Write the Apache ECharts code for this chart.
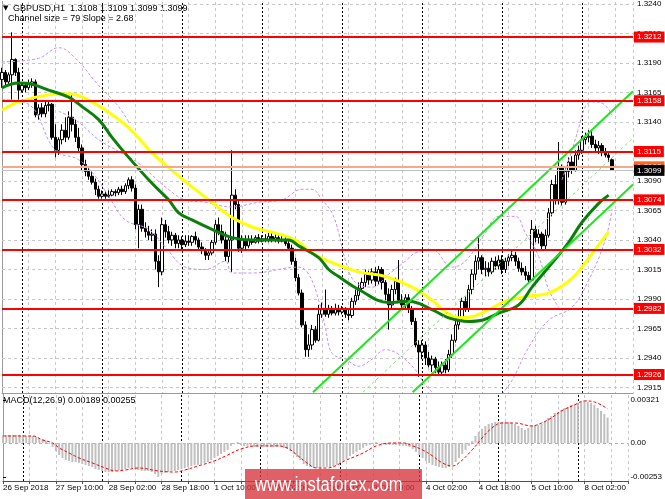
<!DOCTYPE html>
<html><head><meta charset="utf-8">
<script src="https://cdn.jsdelivr.net/npm/echarts@6/dist/echarts.min.js"></script>
<style>html,body{margin:0;padding:0;background:#fff}#c{width:665px;height:499px}</style>
</head><body><div id="c"></div>
<script>
// ---------- data ----------
const tickLabels = ['26 Sep 2018','27 Sep 10:00','28 Sep 02:00','28 Sep 18:00','1 Oct 10:00','2 Oct 02:00','2 Oct 18:00','3 Oct 10:00','4 Oct 02:00','4 Oct 18:00','5 Oct 10:00','8 Oct 02:00'];
const priceTicks = [1.2915,1.2940,1.2965,1.2990,1.3015,1.3040,1.3065,1.3090,1.3115,1.3140,1.3165,1.3190,1.3215,1.3240];
const macdTicks = [-0.00253,0,0.00321];
const levels = [1.3212,1.3158,1.3115,1.3074,1.3032,1.2982,1.2926];
const askPrice = 1.3102;
const bidPrice = 1.3099;
const daySeparators = [6,30,54,78,102,126,150,174];
// [open, close, low, high] per H1 bar
const candles = [
[1.3176,1.3182,1.3169,1.3186],[1.3182,1.3174,1.3171,1.3184],[1.3174,1.3180,1.3171,1.3182],[1.3180,1.3193,1.3159,1.3216],
[1.3193,1.3182,1.3179,1.3194],[1.3182,1.3167,1.3159,1.3186],[1.3167,1.3171,1.3165,1.3174],[1.3171,1.3169,1.3165,1.3173],
[1.3169,1.3172,1.3167,1.3176],[1.3172,1.3174,1.3169,1.3177],[1.3174,1.3146,1.3144,1.3176],[1.3146,1.3152,1.3142,1.3155],
[1.3152,1.3147,1.3144,1.3156],[1.3147,1.3154,1.3144,1.3157],[1.3154,1.3155,1.3149,1.3157],[1.3155,1.3127,1.3125,1.3156],
[1.3127,1.3116,1.3110,1.3138],[1.3116,1.3125,1.3112,1.3127],[1.3125,1.3133,1.3121,1.3138],[1.3133,1.3127,1.3123,1.3144],
[1.3127,1.3144,1.3125,1.3149],[1.3144,1.3138,1.3132,1.3163],[1.3138,1.3127,1.3123,1.3142],[1.3127,1.3118,1.3115,1.3135],
[1.3118,1.3104,1.3099,1.3121],[1.3104,1.3098,1.3094,1.3108],[1.3098,1.3094,1.3091,1.3101],[1.3094,1.3089,1.3087,1.3098],
[1.3089,1.3083,1.3078,1.3092],[1.3083,1.3077,1.3075,1.3086],[1.3077,1.3079,1.3075,1.3082],[1.3079,1.3077,1.3075,1.3081],
[1.3077,1.3078,1.3076,1.3082],[1.3078,1.3081,1.3077,1.3083],[1.3081,1.3080,1.3077,1.3083],[1.3080,1.3083,1.3078,1.3085],
[1.3083,1.3081,1.3078,1.3086],[1.3081,1.3086,1.3079,1.3088],[1.3086,1.3091,1.3083,1.3093],[1.3091,1.3084,1.3081,1.3094],
[1.3084,1.3053,1.3049,1.3087],[1.3053,1.3066,1.3033,1.3070],[1.3066,1.3050,1.3047,1.3070],[1.3050,1.3047,1.3042,1.3055],
[1.3047,1.3044,1.3040,1.3052],[1.3044,1.3045,1.3039,1.3049],[1.3045,1.3022,1.3015,1.3049],[1.3022,1.3013,1.3000,1.3027],
[1.3013,1.3053,1.3010,1.3059],[1.3053,1.3047,1.3042,1.3057],[1.3047,1.3040,1.3037,1.3052],[1.3040,1.3044,1.3035,1.3047],
[1.3044,1.3037,1.3033,1.3046],[1.3037,1.3040,1.3033,1.3044],[1.3040,1.3036,1.3032,1.3043],[1.3036,1.3039,1.3034,1.3044],
[1.3039,1.3038,1.3035,1.3044],[1.3038,1.3043,1.3035,1.3044],[1.3043,1.3040,1.3036,1.3047],[1.3040,1.3034,1.3032,1.3042],
[1.3034,1.3031,1.3028,1.3038],[1.3031,1.3027,1.3023,1.3033],[1.3027,1.3029,1.3023,1.3032],[1.3029,1.3038,1.3027,1.3040],
[1.3038,1.3053,1.3036,1.3057],[1.3053,1.3047,1.3044,1.3059],[1.3047,1.3040,1.3037,1.3053],[1.3040,1.3026,1.3022,1.3047],
[1.3026,1.3040,1.3021,1.3042],[1.3040,1.3078,1.3013,1.3116],[1.3078,1.3070,1.3066,1.3083],[1.3070,1.3033,1.3030,1.3074],
[1.3033,1.3040,1.3029,1.3044],[1.3040,1.3035,1.3032,1.3044],[1.3035,1.3040,1.3033,1.3044],[1.3040,1.3038,1.3036,1.3044],
[1.3038,1.3042,1.3037,1.3044],[1.3042,1.3039,1.3037,1.3045],[1.3039,1.3041,1.3038,1.3044],[1.3041,1.3040,1.3038,1.3045],
[1.3040,1.3043,1.3038,1.3046],[1.3043,1.3040,1.3038,1.3047],[1.3040,1.3042,1.3038,1.3045],[1.3042,1.3039,1.3037,1.3044],
[1.3039,1.3040,1.3038,1.3044],[1.3040,1.3037,1.3035,1.3043],[1.3037,1.3033,1.3032,1.3039],[1.3033,1.3022,1.3019,1.3036],
[1.3022,1.3008,1.3005,1.3025],[1.3008,1.2995,1.2993,1.3011],[1.2995,1.2968,1.2966,1.2998],[1.2968,1.2947,1.2941,1.2971],
[1.2947,1.2951,1.2941,1.2960],[1.2951,1.2964,1.2947,1.2968],[1.2964,1.2955,1.2953,1.2967],[1.2955,1.2977,1.2954,1.2985],
[1.2977,1.2981,1.2974,1.2987],[1.2981,1.2977,1.2975,1.2998],[1.2977,1.2982,1.2974,1.2985],[1.2982,1.2978,1.2976,1.2984],
[1.2978,1.2982,1.2976,1.2986],[1.2982,1.2979,1.2976,1.2985],[1.2979,1.2981,1.2977,1.2984],[1.2981,1.2977,1.2974,1.2983],
[1.2977,1.2976,1.2972,1.2982],[1.2976,1.2988,1.2974,1.2991],[1.2988,1.2993,1.2985,1.2998],[1.2993,1.2999,1.2989,1.3004],
[1.2999,1.3004,1.2996,1.3008],[1.3004,1.3011,1.3000,1.3015],[1.3011,1.3006,1.3002,1.3014],[1.3006,1.3013,1.3003,1.3016],
[1.3013,1.3005,1.3001,1.3017],[1.3005,1.3015,1.3002,1.3018],[1.3015,1.3004,1.2998,1.3017],[1.3004,1.2994,1.2989,1.3006],
[1.2994,1.2985,1.2964,1.2999],[1.2985,1.2998,1.2982,1.3002],[1.2998,1.3005,1.2994,1.3008],[1.3005,1.2989,1.2987,1.3023],
[1.2989,1.2985,1.2981,1.2994],[1.2985,1.2991,1.2981,1.2994],[1.2991,1.2981,1.2978,1.2994],[1.2981,1.2971,1.2968,1.2984],
[1.2971,1.2951,1.2949,1.2974],[1.2951,1.2945,1.2924,1.2955],[1.2945,1.2951,1.2939,1.2955],[1.2951,1.2940,1.2934,1.2954],
[1.2940,1.2934,1.2932,1.2945],[1.2934,1.2939,1.2928,1.2942],[1.2939,1.2932,1.2927,1.2941],[1.2932,1.2928,1.2925,1.2937],
[1.2928,1.2934,1.2926,1.2937],[1.2934,1.2930,1.2927,1.2939],[1.2930,1.2943,1.2928,1.2947],[1.2943,1.2955,1.2940,1.2960],
[1.2955,1.2968,1.2953,1.2972],[1.2968,1.2974,1.2964,1.2981],[1.2974,1.2988,1.2971,1.2991],[1.2988,1.2981,1.2979,1.2992],
[1.2981,1.2998,1.2979,1.3002],[1.2998,1.3011,1.2994,1.3015],[1.3011,1.3022,1.3006,1.3027],[1.3022,1.3025,1.3015,1.3042],
[1.3025,1.3015,1.3011,1.3027],[1.3015,1.3016,1.3009,1.3022],[1.3016,1.3013,1.3009,1.3021],[1.3013,1.3022,1.3011,1.3025],
[1.3022,1.3018,1.3015,1.3026],[1.3018,1.3023,1.3015,1.3027],[1.3023,1.3015,1.3011,1.3027],[1.3015,1.3022,1.3012,1.3025],
[1.3022,1.3025,1.3018,1.3028],[1.3025,1.3027,1.3022,1.3032],[1.3027,1.3022,1.3018,1.3030],[1.3022,1.3016,1.3013,1.3025],
[1.3016,1.3013,1.3010,1.3021],[1.3013,1.3010,1.3006,1.3018],[1.3010,1.3006,1.3004,1.3013],[1.3006,1.3049,1.3005,1.3057],
[1.3049,1.3042,1.3038,1.3052],[1.3042,1.3045,1.3037,1.3049],[1.3045,1.3035,1.3032,1.3047],[1.3035,1.3044,1.3032,1.3049],
[1.3044,1.3063,1.3042,1.3067],[1.3063,1.3087,1.3060,1.3091],[1.3087,1.3074,1.3070,1.3095],[1.3074,1.3101,1.3070,1.3123],
[1.3101,1.3072,1.3069,1.3104],[1.3072,1.3098,1.3070,1.3101],[1.3098,1.3106,1.3093,1.3110],[1.3106,1.3099,1.3096,1.3111],
[1.3099,1.3112,1.3098,1.3116],[1.3112,1.3116,1.3108,1.3120],[1.3116,1.3125,1.3113,1.3128],[1.3125,1.3127,1.3121,1.3131],
[1.3127,1.3128,1.3123,1.3133],[1.3128,1.3121,1.3118,1.3133],[1.3121,1.3118,1.3115,1.3125],[1.3118,1.3120,1.3113,1.3124],
[1.3120,1.3115,1.3111,1.3122],[1.3115,1.3112,1.3110,1.3118],[1.3112,1.3110,1.3106,1.3115],[1.3108,1.3099,1.3099,1.3109]
];
// moving averages [bar, price]
const maGreen = [[0,1.3169],[5,1.3173],[9,1.3172],[14,1.3167],[20,1.3161],[24,1.3153],[29,1.3142],[33,1.3127],[38,1.3110],[45,1.3088],[50,1.3074],[53,1.3063],[57,1.3057],[63,1.3049],[69,1.3042],[75,1.3040],[86,1.3040],[89,1.3035],[95,1.3025],[98,1.3015],[101,1.3009],[107,1.2998],[116,1.2987],[122,1.2988],[129,1.2981],[134,1.2974],[140,1.2971],[144,1.2972],[149,1.2978],[155,1.2985],[159,1.3000],[164,1.3017],[170,1.3038],[174,1.3055],[179,1.3071],[182,1.3078]];
const maYellow = [[0,1.3150],[5,1.3157],[14,1.3163],[20,1.3164],[25,1.3160],[31,1.3150],[38,1.3135],[45,1.3114],[51,1.3099],[57,1.3085],[63,1.3072],[69,1.3059],[75,1.3051],[83,1.3045],[88,1.3040],[93,1.3029],[98,1.3022],[107,1.3013],[115,1.3009],[123,1.3000],[129,1.2989],[133,1.2979],[137,1.2974],[141,1.2975],[146,1.2981],[151,1.2988],[157,1.2992],[164,1.2995],[170,1.3005],[174,1.3017],[178,1.3032],[182,1.3047]];
// violet dashed bands [bar, price]
const bandA = [[0,1.3191],[11,1.3194],[17,1.3203],[22,1.3194],[29,1.3171],[35,1.3153],[38,1.3140]];
const bandB = [[17,1.3149],[22,1.3142],[29,1.3125],[35,1.3115],[41,1.3105],[49,1.3085],[55,1.3074],[61,1.3072],[69,1.3068],[77,1.3072],[84,1.3074],[90,1.3083],[93,1.3083],[96,1.3074],[99,1.3063],[101,1.3046],[103,1.3023],[106,1.3004],[111,1.3000],[116,1.3011],[121,1.3022],[124,1.3029],[129,1.3032],[135,1.3017],[139,1.3022],[145,1.3046],[149,1.3060],[154,1.3060],[157,1.3046],[161,1.3026],[164,1.2998],[167,1.2983]];
const bandC = [[0,1.3159],[8,1.3155],[16,1.3116],[23,1.3108],[28,1.3094],[32,1.3077],[37,1.3057],[44,1.3049],[49,1.3034],[55,1.3017],[61,1.3015],[67,1.3022],[69,1.3012],[75,1.3012],[89,1.3017],[92,1.3011],[95,1.2989],[97,1.2966],[99,1.2944],[103,1.2939],[107,1.2933],[111,1.2939],[115,1.2947],[119,1.2943],[124,1.2930],[127,1.2917],[131,1.2906]];
const bandD = [[149,1.2906],[153,1.2921],[158,1.2949],[164,1.2972],[171,1.2983],[176,1.3006],[181,1.3040],[183,1.3066]];
const bandE = [[168,1.3091],[171,1.3116],[173,1.3135],[175,1.3153],[177,1.3157],[180,1.3156],[183,1.3146]];
// regression channel [bar, price]
const channelUpper = [[93.3,1.2911],[189.3,1.3166]];
const channelMid = [[108.3,1.2911],[189.3,1.31265]];
const channelLower = [[123.2,1.2911],[189.3,1.3087]];
// MACD histogram per bar and signal [bar, value]
const macdHist = [
0.00060,0.00060,0.00060,0.00060,0.00060,0.00060,0.00060,0.00052,0.00052,0.00052,
0.00045,0.00037,0.00030,0.00015,-0.00007,-0.00030,-0.00060,-0.00090,-0.00112,-0.00127,
-0.00134,-0.00142,-0.00142,-0.00149,-0.00157,-0.00164,-0.00172,-0.00179,-0.00194,-0.00202,
-0.00209,-0.00217,-0.00217,-0.00217,-0.00209,-0.00202,-0.00202,-0.00194,-0.00187,-0.00187,
-0.00194,-0.00202,-0.00209,-0.00209,-0.00209,-0.00217,-0.00232,-0.00254,-0.00232,-0.00224,
-0.00217,-0.00209,-0.00209,-0.00202,-0.00194,-0.00187,-0.00179,-0.00172,-0.00164,-0.00164,
-0.00157,-0.00149,-0.00142,-0.00127,-0.00112,-0.00097,-0.00082,-0.00067,-0.00052,-0.00022,
-0.00007,0.00007,-0.00015,-0.00022,-0.00022,-0.00022,-0.00030,-0.00030,-0.00030,-0.00030,
-0.00030,-0.00030,-0.00030,-0.00030,-0.00030,-0.00037,-0.00045,-0.00060,-0.00082,-0.00105,
-0.00127,-0.00157,-0.00172,-0.00179,-0.00187,-0.00187,-0.00187,-0.00179,-0.00179,-0.00179,
-0.00172,-0.00164,-0.00149,-0.00134,-0.00120,-0.00097,-0.00082,-0.00067,-0.00052,-0.00037,
-0.00022,-0.00015,-0.00007,0.00007,0.00002,-0.00007,-0.00015,-0.00015,-0.00015,-0.00015,
-0.00022,-0.00022,-0.00022,-0.00030,-0.00045,-0.00067,-0.00090,-0.00112,-0.00134,-0.00149,
-0.00164,-0.00172,-0.00179,-0.00187,-0.00187,-0.00179,-0.00164,-0.00142,-0.00112,-0.00082,
-0.00052,-0.00022,0.00015,0.00052,0.00082,0.00105,0.00127,0.00142,0.00149,0.00157,
0.00157,0.00157,0.00157,0.00157,0.00149,0.00142,0.00127,0.00112,0.00097,0.00112,
0.00127,0.00134,0.00134,0.00142,0.00164,0.00187,0.00202,0.00224,0.00232,0.00247,
0.00261,0.00269,0.00284,0.00291,0.00299,0.00306,0.00314,0.00306,0.00299,0.00284,
0.00261,0.00239,0.00217,0.00189
];
const macdSignal = [[0,0.00052],[9,0.00052],[12,0.00022],[15,0],[17,-0.00037],[20,-0.00075],[23,-0.00112],[27,-0.00149],[31,-0.00187],[34,-0.00209],[37,-0.00202],[41,-0.00187],[47,-0.00209],[52,-0.00217],[55,-0.00202],[59,-0.00172],[64,-0.00134],[68,-0.00090],[72,-0.00045],[77,-0.00022],[83,-0.00022],[86,-0.00037],[89,-0.00090],[92,-0.00149],[95,-0.00187],[98,-0.00187],[104,-0.00127],[109,-0.00075],[113,-0.00022],[118,0],[121,0],[124,-0.00022],[127,-0.00052],[130,-0.00097],[133,-0.00149],[136,-0.00172],[138,-0.00149],[142,-0.00052],[145,0.00037],[148,0.00112],[151,0.00149],[155,0.00149],[160,0.00127],[163,0.00149],[166,0.00187],[169,0.00239],[173,0.00284],[176,0.00314],[179,0.00306],[183,0.00255]];

// ---------- chart ----------
const FONT = '"Liberation Sans", Arial, sans-serif';
const X_MAX = 189.3;
const chart = echarts.init(document.getElementById('c'), null, {renderer: 'canvas'});
const gridDash = {color: '#c8c8c8', type: [3, 3], width: 1};
const xLabelFmt = v => {
  const k = Math.round(v);
  if (Math.abs(v - k) > 1e-6 || k % 16 !== 0) return '';
  return tickLabels[k / 16] || '';
};
const bandStyle = {color: '#c890f0', width: 1, type: [3, 2]};
function bandSeries(d) {
  return {type: 'line', xAxisIndex: 0, yAxisIndex: 0, data: d, showSymbol: false, symbol: 'none',
    smooth: 0.4, lineStyle: bandStyle, z: 3, silent: true};
}
const tagLabel = bg => ({show: true, position: 'end', distance: 1, formatter: p => Number(p.value).toFixed(4),
  color: '#fff', backgroundColor: bg, padding: [2, 3, 1, 3], fontSize: 8, fontFamily: FONT});

chart.setOption({
  animation: false,
  backgroundColor: '#ffffff',
  textStyle: {fontFamily: FONT},
  grid: [
    {left: 2, right: 32, top: 2, height: 391},
    {left: 2, right: 32, top: 395, height: 86}
  ],
  xAxis: [
    {type: 'value', gridIndex: 0, min: 0, max: X_MAX, interval: 8,
      axisLine: {show: true, onZero: false, lineStyle: {color: '#9a9a9a'}},
      axisTick: {show: false}, axisLabel: {show: false},
      splitLine: {show: true, lineStyle: gridDash}},
    {type: 'value', gridIndex: 1, min: 0, max: X_MAX, interval: 8,
      axisLine: {show: true, onZero: false, lineStyle: {color: '#505050'}},
      axisTick: {show: true, length: 3, lineStyle: {color: '#505050'}},
      axisLabel: {show: true, formatter: xLabelFmt, align: 'left', margin: 3, fontSize: 8, color: '#000', fontFamily: FONT},
      splitLine: {show: true, lineStyle: gridDash}}
  ],
  yAxis: [
    {type: 'value', gridIndex: 0, position: 'right', min: 1.29103, max: 1.32417,
      axisLine: {show: true, lineStyle: {color: '#000'}},
      axisTick: {show: true, length: 3, customValues: priceTicks, lineStyle: {color: '#000'}},
      axisLabel: {customValues: priceTicks, formatter: v => v.toFixed(4), margin: 4, fontSize: 8, color: '#000', fontFamily: FONT},
      splitLine: {show: false}},
    {type: 'value', gridIndex: 1, position: 'right', min: -0.00284, max: 0.00358,
      axisLine: {show: true, lineStyle: {color: '#000'}},
      axisTick: {show: true, length: 3, customValues: macdTicks, lineStyle: {color: '#000'}},
      axisLabel: {customValues: macdTicks, formatter: v => (v === 0 ? '0.00' : v.toFixed(5)), margin: 2, fontSize: 8, color: '#000', fontFamily: FONT},
      splitLine: {show: false}},
    {type: 'value', gridIndex: 0, position: 'left', axisLine: {show: true, lineStyle: {color: '#9a9a9a'}},
      axisTick: {show: false}, axisLabel: {show: false}, splitLine: {show: false}},
    {type: 'value', gridIndex: 1, position: 'left', axisLine: {show: true, lineStyle: {color: '#9a9a9a'}},
      axisTick: {show: false}, axisLabel: {show: false}, splitLine: {show: false}}
  ],
  series: [
    {type: 'candlestick', name: 'GBPUSD', xAxisIndex: 0, yAxisIndex: 0,
      data: candles.map((d, i) => [i, d[0], d[1], d[2], d[3]]),
      encode: {x: 0, y: [1, 2, 3, 4]},
      barWidth: 2.6, clip: false, z: 2, silent: true,
      itemStyle: {color: '#ffffff', color0: '#000000', borderColor: '#000000', borderColor0: '#000000', borderWidth: 1},
      markLine: {
        silent: true, symbol: ['none', 'none'], z: 1, animation: false, precision: 6,
        label: {show: false},
        data: priceTicks.map(v => ({yAxis: v, lineStyle: gridDash}))
          .concat(daySeparators.map(v => ({xAxis: v, lineStyle: {color: '#000', type: [2, 2], width: 1}})))
      }},
    bandSeries(bandA), bandSeries(bandB), bandSeries(bandC), bandSeries(bandD), bandSeries(bandE),
    {type: 'line', name: 'MA slow', xAxisIndex: 0, yAxisIndex: 0, data: maYellow, symbol: 'none', smooth: 0.4,
      lineStyle: {color: '#ffff00', width: 3}, z: 4, silent: true,
      markLine: {
        silent: true, symbol: ['none', 'none'], z: 6, animation: false, precision: 6,
        lineStyle: {color: '#ff0000', width: 2, type: 'solid'},
        label: tagLabel('#ff0000'),
        data: levels.map(v => ({yAxis: v}))
      }},
    {type: 'line', name: 'MA fast', xAxisIndex: 0, yAxisIndex: 0, data: maGreen, symbol: 'none', smooth: 0.4,
      lineStyle: {color: '#0a800a', width: 3}, z: 4, silent: true,
      markLine: {
        silent: true, symbol: ['none', 'none'], z: 7, animation: false, precision: 6,
        data: [
          {yAxis: askPrice, lineStyle: {color: '#f6a98a', width: 2, type: 'solid'}, label: tagLabel('#ff6a1a')},
          {yAxis: bidPrice, lineStyle: {color: '#c0c0c0', width: 1, type: 'solid'}, label: tagLabel('#000000')}
        ]
      }},
    {type: 'line', name: 'channel up', xAxisIndex: 0, yAxisIndex: 0, data: channelUpper, symbol: 'none',
      lineStyle: {color: '#1ee61e', width: 2}, z: 5, silent: true},
    {type: 'line', name: 'channel mid', xAxisIndex: 0, yAxisIndex: 0, data: channelMid, symbol: 'none',
      lineStyle: {color: '#7ee07e', width: 1, type: [3, 3]}, z: 5, silent: true},
    {type: 'line', name: 'channel low', xAxisIndex: 0, yAxisIndex: 0, data: channelLower, symbol: 'none',
      lineStyle: {color: '#1ee61e', width: 2}, z: 5, silent: true},
    {type: 'bar', name: 'MACD', xAxisIndex: 1, yAxisIndex: 1,
      data: macdHist.map((v, i) => [i, v]), barWidth: 2, silent: true,
      itemStyle: {color: '#c0c0c0'},
      markLine: {
        silent: true, symbol: ['none', 'none'], z: 1, animation: false, precision: 6, label: {show: false},
        data: [{yAxis: 0, lineStyle: {color: '#b0b0b0', type: [3, 3], width: 1}}]
          .concat(daySeparators.map(v => ({xAxis: v, lineStyle: {color: '#000', type: [2, 2], width: 1}})))
      }},
    {type: 'line', name: 'Signal', xAxisIndex: 1, yAxisIndex: 1, data: macdSignal, symbol: 'none', smooth: 0.4,
      lineStyle: {color: '#ff0000', width: 1, type: [3, 2]}, z: 4, silent: true}
  ],
  graphic: [
    {type: 'text', x: 3, y: 8.5, style: {text: '\u25BC', font: '7px "DejaVu Sans"', fill: '#000', verticalAlign: 'middle'}},
    {type: 'text', x: 13, y: 8.5, style: {text: 'GBPUSD,H1  1.3108 1.3109 1.3099 1.3099', font: '9px ' + FONT, fill: '#000', verticalAlign: 'middle'}},
    {type: 'text', x: 8, y: 19, style: {text: 'Channel size = 79 Slope = 2.68', font: '9px ' + FONT, fill: '#000', verticalAlign: 'middle'}},
    {type: 'text', x: 3, y: 401, style: {text: 'MACD(12,26,9) 0.00189 0.00255', font: '9px ' + FONT, fill: '#000', verticalAlign: 'middle'}},
    {type: 'rect', shape: {x: 245, y: 469, width: 177, height: 30}, style: {fill: 'rgba(214,52,60,0.78)'}, z: 100},
    {type: 'text', x: 255, y: 485, scaleX: 0.83, z: 101, style: {text: 'www.instaforex.com', font: '20px ' + FONT, fill: '#fff', verticalAlign: 'middle'}}
  ]
});
</script>
</body></html>
